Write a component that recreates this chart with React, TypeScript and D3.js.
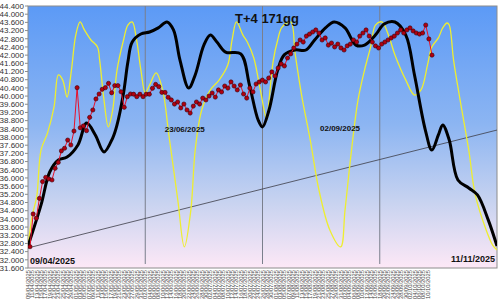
import React from "react";
import * as d3 from "d3";

const START = "2025-04-09";
const END = "2025-11-11";
const LABEL_END = "2025-10-10";

// red series (trading days, evenly spaced)
const redValues = [
  32.64, 34.24, 34.03, 35.0, 35.82, 36.03, 35.95, 35.9, 36.47, 36.76,
  37.32, 37.45, 37.85, 37.61, 38.29, 40.41, 38.45, 38.54, 38.31, 38.96,
  39.32, 39.86, 40.1, 40.33, 40.41, 40.62, 40.16, 40.51, 40.51, 40.21,
  39.45, 39.97, 40.1, 40.09, 39.97, 40.09, 39.97, 40.09, 40.09, 40.38,
  40.57, 40.46, 40.18, 40.18, 39.94, 39.81, 39.61, 39.71, 39.42, 39.61,
  39.32, 39.17, 39.51, 39.71, 39.61, 39.9, 39.81, 40.0, 40.15, 39.95,
  40.3, 40.2, 40.49, 40.39, 40.69, 40.49, 40.3, 40.54, 40.1, 39.9,
  40.39, 40.2, 40.59, 40.69, 40.78, 40.69, 40.88, 41.18, 40.98, 41.37,
  41.57, 41.47, 41.86, 42.06, 42.35, 42.54, 42.74, 42.64, 42.93, 43.03,
  43.13, 43.23, 43.08, 42.74, 42.84, 42.49, 42.59, 42.4, 42.54, 42.35,
  42.25, 42.45, 42.54, 42.74, 42.64, 42.93, 43.08, 43.23, 42.93, 42.64,
  42.45, 42.35, 42.54, 42.64, 42.74, 42.84, 42.93, 43.08, 43.23, 43.08,
  43.23, 43.33, 43.18, 43.08, 43.03, 43.08, 43.47, 42.79, 42.0,
];

// black smooth curve: day offset from START, value
const blackDays = [0, 6, 10, 14, 18, 23, 27, 31, 35, 39, 41, 44, 46, 48, 52, 56, 60, 64, 67, 70, 74, 77, 81, 84, 87, 91, 98, 102, 106, 108, 111, 115, 118, 123, 128, 132, 137, 141, 146, 151, 155, 160, 164, 169, 174, 178, 183, 186, 189, 191, 194, 198, 203, 207, 212, 216];
const blackValues = [32.67, 34.68, 36.29, 36.88, 37.02, 37.61, 38.68, 38.1, 37.27, 37.95, 38.59, 40.15, 41.66, 42.64, 43.03, 43.13, 43.33, 43.62, 43.23, 41.76, 40.39, 41.03, 42.49, 42.98, 42.64, 42.15, 42.06, 40.54, 38.83, 38.49, 39.32, 41.27, 42.01, 42.25, 42.25, 42.74, 43.33, 43.62, 43.33, 42.49, 42.49, 42.98, 43.52, 43.62, 42.98, 41.03, 38.34, 37.36, 38.1, 38.59, 37.85, 35.9, 35.51, 35.17, 33.94, 32.67];

// yellow curve
const yellowDays = [0, 2, 4, 6, 9, 12, 14, 16, 18, 20, 22, 24, 26, 29, 32, 33, 35, 37, 39, 41, 44, 46, 48, 50, 52, 54, 56, 59, 62, 65, 69, 72, 75, 77, 80, 84, 88, 92, 94, 96, 99, 101, 104, 107, 110, 111, 113, 115, 117, 121, 123, 126, 130, 134, 139, 144, 146, 149, 152, 155, 158, 160, 163, 166, 169, 174, 178, 181, 184, 186, 189, 191, 193, 194, 196, 199, 203, 206, 211, 214, 216];
const yellowValues = [32.67, 34.19, 35.07, 37.36, 38.2, 39.47, 41.03, 40.78, 39.95, 41.27, 42.98, 43.62, 43.23, 42.74, 42.4, 41.76, 39.81, 38.49, 39.32, 41.27, 42.74, 43.47, 43.62, 42.74, 41.27, 40.15, 40.54, 41.13, 40.3, 38.0, 34.92, 32.63, 34.43, 37.36, 39.32, 40.3, 40.78, 41.52, 42.74, 43.62, 42.98, 42.64, 41.86, 40.3, 38.83, 39.81, 41.76, 42.74, 43.37, 43.62, 42.1, 40.05, 37.85, 35.41, 33.46, 32.63, 34.43, 37.36, 39.81, 41.27, 42.49, 43.47, 43.62, 42.98, 42.01, 40.78, 40.05, 40.3, 41.52, 42.4, 42.84, 43.33, 43.57, 43.47, 41.76, 39.81, 37.36, 35.17, 33.46, 32.72, 32.48];

const trendDays = [0, 216];
const trendValues = [32.58, 38.34];

const vlineDays = [54, 108, 162];

const title = "T+4 171gg";
const notes = [
  { text: "23/06/2025", day: 63, value: 38.22, anchor: "start" },
  { text: "02/09/2025", day: 134.5, value: 38.3, anchor: "start" },
];
const cornerLeft = "09/04/2025";
const cornerRight = "11/11/2025";

const yMin = 31.6;
const yMax = 44.4;
const yStep = 0.4;

const W = 500;
const H = 300;
const L = 28;
const R = 497;
const T = 6;
const B = 268;

const DAY = 86400000;
const base = new Date(START + "T00:00:00Z").getTime();
const toDate = (d: number) => new Date(base + d * DAY);

export default function App() {
  const x = d3
    .scaleUtc()
    .domain([new Date(START + "T00:00:00Z"), new Date(END + "T00:00:00Z")])
    .range([L, R]);
  const y = d3.scaleLinear().domain([yMin, yMax]).range([B, T]);

  const yTicks = d3.range(0, Math.round((yMax - yMin) / yStep) + 1).map((i) => yMin + i * yStep);
  const labels = d3
    .range(0, Math.floor((new Date(LABEL_END + "T00:00:00Z").getTime() - base) / DAY) + 1, 2)
    .map(toDate);
  const fmt = d3.utcFormat("%d/%m/%Y");

  const xr = d3.scalePoint<number>().domain(redValues.map((_, i) => i)).range([30, 432]);

  const lineBlack = d3
    .line<number>()
    .x((_, i) => x(toDate(blackDays[i])))
    .y((v) => y(v))
    .curve(d3.curveCatmullRom.alpha(0.5));
  const lineYellow = d3
    .line<number>()
    .x((_, i) => x(toDate(yellowDays[i])))
    .y((v) => y(v))
    .curve(d3.curveCatmullRom.alpha(0.5));
  const lineRed = d3
    .line<number>()
    .x((_, i) => xr(i)!)
    .y((v) => y(v));
  const lineTrend = d3
    .line<number>()
    .x((_, i) => x(toDate(trendDays[i])))
    .y((v) => y(v));

  const font = "'Liberation Sans', Arial, sans-serif";

  return (
    <svg
      width={W}
      height={H}
      style={{ position: "absolute", left: 0, top: 0, background: "#fff" }}
      fontFamily={font}
    >
      <defs>
        <linearGradient id="bg" x1="0" y1="0" x2="0" y2="1">
          <stop offset="0%" stopColor="#5c9af6" />
          <stop offset="45%" stopColor="#8cb5f2" />
          <stop offset="75%" stopColor="#c8d3f0" />
          <stop offset="100%" stopColor="#fde8f6" />
        </linearGradient>
        <clipPath id="clip">
          <rect x={L} y={T} width={R - L} height={B - T} />
        </clipPath>
      </defs>
      <rect x={L} y={T} width={R - L} height={B - T} fill="url(#bg)" stroke="#8c8c8c" strokeWidth={1} />
      {yTicks.map((t) => (
        <g key={t}>
          <line x1={L - 3} x2={L} y1={y(t)} y2={y(t)} stroke="#8c8c8c" />
          <text x={L - 4} y={y(t)} dy="0.35em" textAnchor="end" fontSize={8} fill="#333">
            {d3.format(".3f")(t)}
          </text>
        </g>
      ))}
      {labels.map((d) => (
        <text
          key={d.getTime()}
          transform={`translate(${x(d)},${B + 2}) rotate(-90)`}
          textAnchor="end"
          dy="0.35em"
          fontSize={5.8}
          fill="#444"
        >
          {fmt(d)}
        </text>
      ))}
      <g clipPath="url(#clip)">
        {vlineDays.map((d) => (
          <line key={d} x1={x(toDate(d))} x2={x(toDate(d))} y1={T} y2={B - 4} stroke="#7a7f8c" strokeWidth={1} />
        ))}
        <path d={lineTrend(trendValues) || ""} fill="none" stroke="#3c3c46" strokeWidth={0.8} />
        <path d={lineYellow(yellowValues) || ""} fill="none" stroke="#eeee30" strokeWidth={1.3} />
        <path d={lineBlack(blackValues) || ""} fill="none" stroke="#000" strokeWidth={3} />
        <path d={lineRed(redValues) || ""} fill="none" stroke="#e8102a" strokeWidth={1} />
        {redValues.map((v, i) => (
          <circle key={i} cx={xr(i)!} cy={y(v)} r={2.1} fill="#b00010" stroke="#3a0008" strokeWidth={0.6} />
        ))}
      </g>
      <text x={267} y={23} textAnchor="middle" fontSize={13} fontWeight="bold" fill="#111">
        {title}
      </text>
      {notes.map((n) => (
        <text key={n.text} x={x(toDate(n.day))} y={y(n.value)} fontSize={8} fontWeight="bold" fill="#111" textAnchor={n.anchor as any}>
          {n.text}
        </text>
      ))}
      <text x={L + 2} y={B - 4} fontSize={9} fontWeight="bold" fill="#111">
        {cornerLeft}
      </text>
      <text x={R - 2} y={B - 6} fontSize={9} fontWeight="bold" fill="#111" textAnchor="end">
        {cornerRight}
      </text>
    </svg>
  );
}
